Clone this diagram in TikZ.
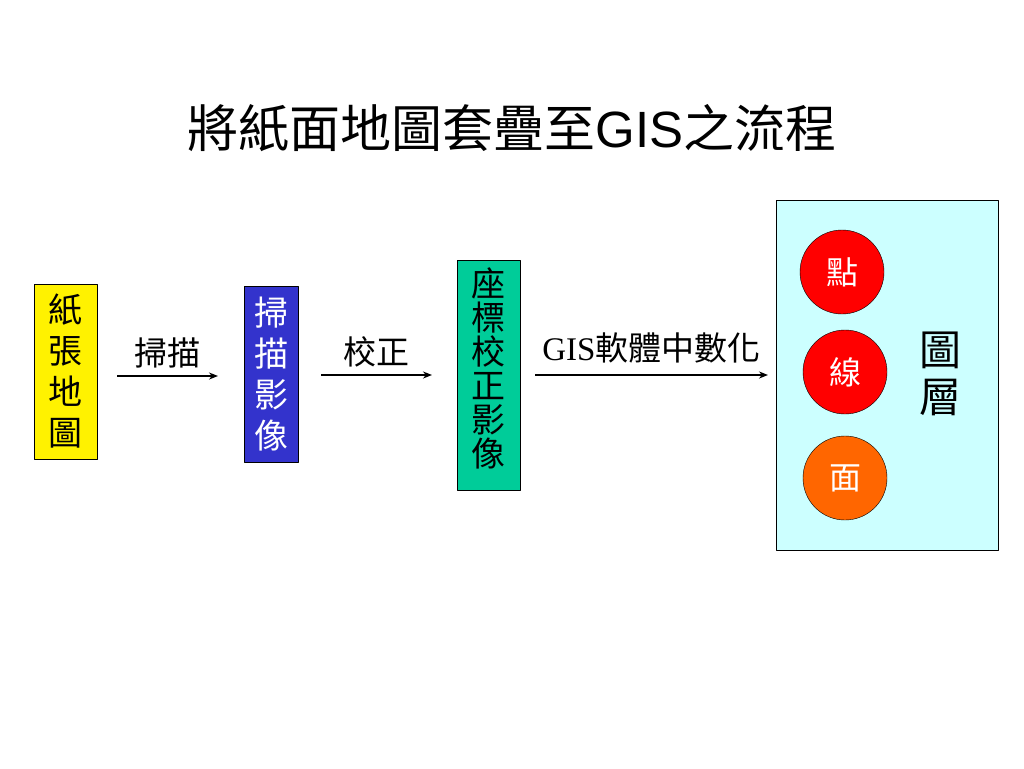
\documentclass[tikz,border=0pt]{standalone}
\usepackage{fontspec}
\setmainfont{Liberation Serif}
\newfontfamily\cjk{Noto Sans CJK TC}
\newfontfamily\arial{Liberation Sans}
\usetikzlibrary{arrows.meta}
\tikzset{
  stepbox/.style={draw=black, inner sep=0pt, align=center, font=\cjk\fontsize{34}{41}\selectfont},
  dot/.style={circle, draw=black, fill=red, minimum size=84pt, inner sep=0pt, text=white, font=\cjk\fontsize{32}{34}\selectfont},
  flow/.style={-{Stealth[length=9pt,width=7pt]}, line width=1.6pt},
  lbl/.style={font=\cjk\fontsize{33}{36}\selectfont}
}
\begin{document}
\begin{tikzpicture}[x=1pt, y=-1pt, line join=round]
	% khung trang
	\useasboundingbox (0,0) rectangle (1024,768);
	% tiêu đề
	\node[font=\cjk\fontsize{51}{56}\selectfont] (title) at (512,128) {將紙面地圖套疊至{\arial GIS}之流程};
	% các hộp
	\node[stepbox, fill=yellow, minimum width=63pt, minimum height=175pt] (paper) at (65.5,371.5) {紙\\張\\地\\圖};
	\node[stepbox, fill={rgb,255:red,51;green,51;blue,204}, text=white, minimum width=54pt, minimum height=176pt] (scan) at (271,374) {掃\\描\\影\\像};
	\node[stepbox, fill={rgb,255:red,0;green,204;blue,153}, minimum width=63pt, minimum height=230pt] (rect) at (488.5,375) {};
	\node[align=center, inner sep=0pt, font=\cjk\fontsize{34}{34}\selectfont] (rectText) at (488.5,368) {座\\標\\校\\正\\影\\像};
	\node[draw=black, fill={rgb,255:red,204;green,255;blue,255}, minimum width=222pt, minimum height=350pt] (layer) at (887,375) {};
	% các điểm nối
	\coordinate (a1) at (117,376);
	\coordinate (b1) at (218,376);
	\coordinate (a2) at (321,375);
	\coordinate (b2) at (432,375);
	\coordinate (a3) at (535,375);
	\coordinate (b3) at (768,375);
	% các mũi tên
	\draw[flow] (a1) -- (b1) node[midway, above=4pt, lbl] {掃描};
	\draw[flow] (a2) -- (b2) node[midway, above=4pt, lbl] {校正};
	\draw[flow] (a3) -- (b3) node[midway, above=8pt, lbl] {{\rmfamily GIS}軟體中數化};
	% các lớp
	\node[dot] (pt) at (842,272) {點};
	\node[dot] (ln) at (845,372) {線};
	\node[dot, fill={rgb,255:red,255;green,102;blue,0}] (ar) at (845,478) {面};
	\node[align=center, font=\cjk\fontsize{42}{47}\selectfont] (lyr) at (940,374) {圖\\層};
\end{tikzpicture}
\end{document}
